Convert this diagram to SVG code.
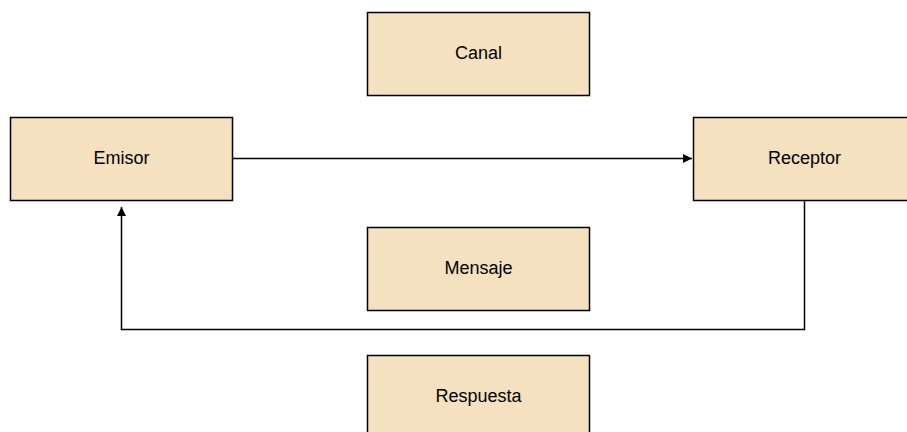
<svg xmlns="http://www.w3.org/2000/svg" width="907" height="432" viewBox="0 0 907 432">
<style>
.box{fill:#f5e0c0;stroke:#000;stroke-width:1.5}
.lbl{font-family:"Liberation Sans",Arial,sans-serif;font-size:18px;fill:#000;text-anchor:middle;dominant-baseline:central}
.edge{fill:none;stroke:#000;stroke-width:1.5}
</style>
<defs>
<marker id="arr" viewBox="0 0 10 10" refX="10" refY="5" markerWidth="9" markerHeight="9" orient="auto" markerUnits="userSpaceOnUse"><path d="M0,0 L10,5 L0,10 z" fill="#000"/></marker>
</defs>
<rect width="907" height="432" fill="#fff"/>
<g id="canal"><rect class="box" x="367.5" y="12.5" width="222" height="83"/><text class="lbl" x="478.5" y="53">Canal</text></g>
<g id="emisor"><rect class="box" x="10.5" y="117.5" width="222" height="83"/><text class="lbl" x="121.5" y="158">Emisor</text></g>
<g id="receptor"><rect class="box" x="693.5" y="117.5" width="222" height="83"/><text class="lbl" x="804.5" y="158">Receptor</text></g>
<g id="mensaje"><rect class="box" x="367.5" y="227.5" width="222" height="83"/><text class="lbl" x="478.5" y="268">Mensaje</text></g>
<g id="respuesta"><rect class="box" x="367.5" y="355.5" width="222" height="83"/><text class="lbl" x="478.5" y="396">Respuesta</text></g>
<g id="connectors">
<path class="edge" d="M232.5,158.5 H692" marker-end="url(#arr)"/>
<path class="edge" d="M804.5,200.5 V329.5 H121.5 V207" marker-end="url(#arr)"/>
</g>
</svg>
